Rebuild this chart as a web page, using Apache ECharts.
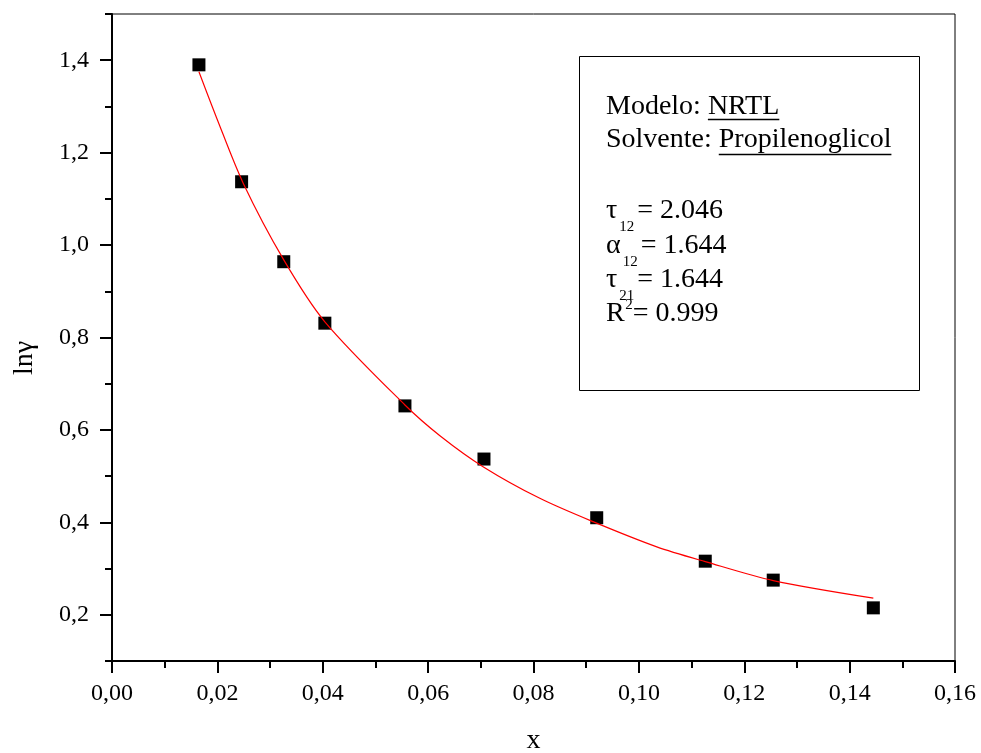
<!DOCTYPE html>
<html><head><meta charset="utf-8">
<script src="https://cdn.jsdelivr.net/npm/echarts@6/dist/echarts.min.js"></script>
<style>html,body{margin:0;padding:0;background:#fff}#c{width:981px;height:753px}</style>
</head><body><div id="c"></div>
<script>
// Experimental points (x, ln gamma)
const ptX = [0.0165, 0.0246, 0.0326, 0.0404, 0.0556, 0.0706, 0.0920, 0.1126, 0.1255, 0.1445];
const ptY = [1.390, 1.137, 0.964, 0.831, 0.652, 0.537, 0.410, 0.316, 0.275, 0.215];
// NRTL fitted curve
const fitX = [0.0165, 0.0199, 0.0249, 0.0326, 0.0404, 0.0556, 0.0623, 0.0705, 0.0812, 0.0914, 0.1034, 0.1126, 0.1255, 0.1445];
const fitY = [1.375, 1.274, 1.134, 0.968, 0.834, 0.654, 0.587, 0.520, 0.452, 0.401, 0.347, 0.315, 0.274, 0.236];
// Tick labels
const xTicks = [0, 0.02, 0.04, 0.06, 0.08, 0.10, 0.12, 0.14, 0.16];
const yTicks = [0.2, 0.4, 0.6, 0.8, 1.0, 1.2, 1.4];

const FONT = '"Liberation Serif", "Times New Roman", serif';
const cv = document.createElement('canvas').getContext('2d');
function tw(t, s) { cv.font = s + 'px ' + FONT; return cv.measureText(t).width; }

const chart = echarts.init(document.getElementById('c'), null, {renderer: 'canvas'});
const lineCol = '#000';
const F = 28, S = 15, X0 = 606;
const mid = (base, size) => base - 0.34 * size;

function txt(t, x, base, size) {
  return {type: 'text', x: x, y: mid(base, size), z: 10,
    style: {text: t, font: size + 'px ' + FONT, fill: '#000', verticalAlign: 'middle', align: 'left'}};
}
function ul(x1, x2, y) {
  return {type: 'line', z: 10, shape: {x1: x1, y1: y, x2: x2, y2: y}, style: {stroke: '#000', lineWidth: 1.5}};
}
const g = [];
g.push({type: 'rect', z: 9, shape: {x: 579.5, y: 56.5, width: 340, height: 334}, style: {fill: '#fff', stroke: '#000', lineWidth: 1}});
g.push(txt('Modelo: NRTL', X0, 116, F));
g.push(ul(X0 + tw('Modelo: ', F), X0 + tw('Modelo: NRTL', F), 119.5));
g.push(txt('Solvente: Propilenoglicol', X0, 149, F));
g.push(ul(X0 + tw('Solvente: ', F), X0 + tw('Solvente: Propilenoglicol', F), 154.5));
function subLine(sym, sub, rest, base) {
  const sx = X0 + tw(sym, F) + 2;
  g.push(txt(sym, X0, base, F));
  g.push(txt(sub, sx, base + 12, S));
  g.push(txt(rest, sx + tw(sub, S) + 3, base, F));
}
subLine('\u03C4', '12', '= 2.046', 220);
subLine('\u03B1', '12', '= 1.644', 255);
subLine('\u03C4', '21', '= 1.644', 289);
(function () {
  const sx = X0 + tw('R', F) + 0.5;
  g.push(txt('R', X0, 323, F));
  g.push(txt('2', sx, 310.5, S));
  g.push(txt('= 0.999', sx + tw('2', S), 323, F));
})();
// axis titles
g.push({type: 'text', x: 533.5, y: 741, style: {text: 'x', font: F + 'px ' + FONT, fill: '#000', align: 'center', verticalAlign: 'middle'}});
g.push({type: 'text', x: 24.5, y: 358, rotation: Math.PI / 2, style: {text: 'ln\u03B3', font: F + 'px ' + FONT, fill: '#000', align: 'center', verticalAlign: 'middle'}});

const axLine = {onZero: false, lineStyle: {color: lineCol, width: 2}};
const tickStyle = {color: lineCol, width: 2};
const lblStyle = {fontFamily: FONT, fontSize: 24, color: '#000'};

chart.setOption({
  animation: false,
  backgroundColor: '#fff',
  grid: {left: 112, right: 26, top: 14, bottom: 92, show: true, borderColor: '#000', borderWidth: 1, backgroundColor: 'transparent'},
  xAxis: [{
    type: 'value', min: 0, max: 0.16, interval: 0.02,
    axisLine: axLine,
    axisTick: {show: true, length: 12, lineStyle: tickStyle},
    minorTick: {show: true, splitNumber: 2, length: 7, lineStyle: tickStyle},
    axisLabel: Object.assign({margin: 21, formatter: v => v.toFixed(2).replace('.', ',')}, lblStyle),
    splitLine: {show: false}, minorSplitLine: {show: false}
  }],
  yAxis: [{
    type: 'value', min: 0.1, max: 1.5, interval: 0.1,
    axisLine: axLine,
    axisTick: {show: true, length: 7, lineStyle: tickStyle},
    axisLabel: {show: false},
    splitLine: {show: false}
  }, {
    type: 'value', min: 0.1, max: 1.5, position: 'left', offset: 0,
    axisLine: {show: false},
    axisTick: {show: true, length: 12, lineStyle: tickStyle, customValues: yTicks},
    axisLabel: Object.assign({margin: 23, customValues: yTicks, formatter: v => v.toFixed(1).replace('.', ',')}, lblStyle),
    splitLine: {show: false}
  }],
  series: [{
    type: 'scatter', name: 'exp', xAxisIndex: 0, yAxisIndex: 0,
    symbol: 'rect', symbolSize: 13, itemStyle: {color: '#000', opacity: 1}, z: 2,
    data: ptX.map((x, i) => [x, ptY[i]])
  }, {
    type: 'line', name: 'NRTL', xAxisIndex: 0, yAxisIndex: 0,
    showSymbol: false, smooth: 0.3, z: 3,
    lineStyle: {color: '#ff0000', width: 1.2},
    data: fitX.map((x, i) => [x, fitY[i]])
  }],
  graphic: g
});
</script></body></html>
